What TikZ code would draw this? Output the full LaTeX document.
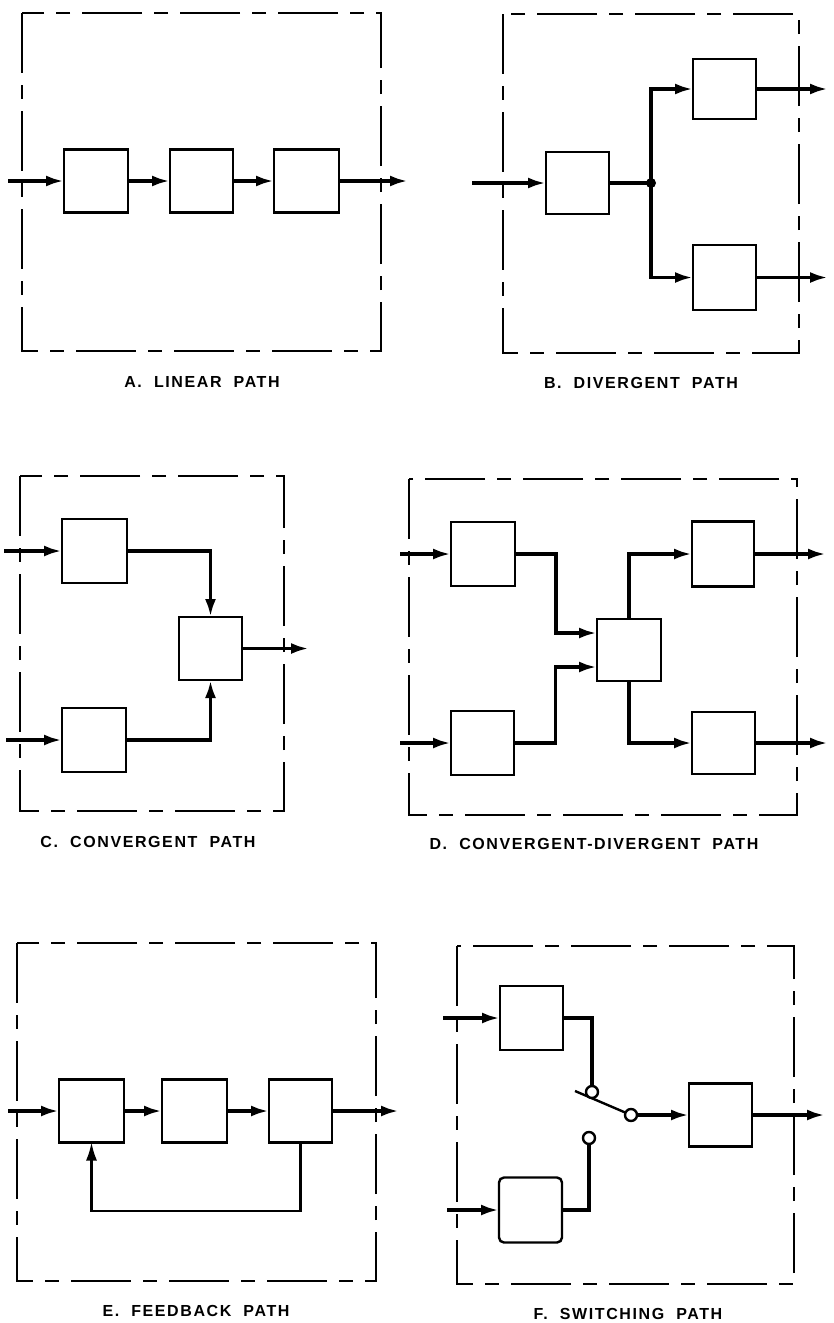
\documentclass[tikz,border=0pt]{standalone}
\usepackage{fontspec}
\setmainfont{Liberation Sans}
\newfontfamily\labfont[LetterSpace=10]{Liberation Sans Bold}
\usetikzlibrary{arrows.meta,calc}
\begin{document}
\begin{tikzpicture}[x=1pt,y=-1pt,
  blk/.style={draw,line width=2.4pt,inner sep=0pt,outer sep=0pt,minimum width=64pt,minimum height=63pt},
  frame/.style={draw,line width=2.2pt,dash pattern=on 60pt off 12pt on 14pt off 12pt},
  conn/.style={line width=3.6pt,-{Latex[length=18pt,width=11pt]}},
  wire/.style={line width=3.6pt},
  fbk/.style={line width=2.2pt,-{Latex[length=18pt,width=11pt]}},
  contact/.style={circle,draw,fill=white,line width=2.4pt,inner sep=0pt,minimum size=12pt},
  lab/.style={font=\labfont\fontsize{16}{18}\selectfont,inner sep=0pt}
]
\useasboundingbox[fill=white] (0,0) rectangle (833,1323);

% ---------- A. Linear path ----------
\draw[frame] (22,13) rectangle (381,351);
\node[blk] (a1) at (96,181) {};
\node[blk,minimum width=63pt] (a2) at (201.5,181) {};
\node[blk,minimum width=65pt] (a3) at (306.5,181) {};
\coordinate (ai) at (8,181);
\coordinate (ao) at (408,181);
\draw[conn] (ai) -- (a1.west);
\draw[conn] (a1.east) -- (a2.west);
\draw[conn] (a2.east) -- (a3.west);
\draw[conn] (a3.east) -- (ao);
\node[lab] (labA) at (202,382) {A.\ \ LINEAR\ \ PATH};

% ---------- B. Divergent path ----------
\draw[frame] (503,14) rectangle (799,353);
\node[blk,minimum width=63pt,minimum height=62pt] (b1) at (577.5,183) {};
\node[blk,minimum width=63pt,minimum height=60pt] (b2) at (724.5,89) {};
\node[blk,minimum width=63pt,minimum height=65pt] (b3) at (724.5,277.5) {};
\coordinate (bi) at (472,183);
\coordinate (bj) at (651,183);
\coordinate (bo2) at (828,89);
\coordinate (bo3) at (828,277.5);
\draw[conn] (bi) -- (b1.west);
\draw[wire] (b1.east) -- (bj);
\draw[conn] (bj) |- (b2.west);
\draw[conn] (bj) |- (b3.west);
\fill (bj) circle (5pt);
\draw[conn] (b2.east) -- (bo2);
\draw[conn] (b3.east) -- (bo3);
\node[lab] (labB) at (641,383) {B.\ \ DIVERGENT\ \ PATH};

% ---------- C. Convergent path ----------
\draw[frame] (20,476) rectangle (284,811);
\node[blk,minimum width=65pt,minimum height=64pt] (c1) at (94.5,551) {};
\node[blk,minimum width=64pt,minimum height=64pt] (c2) at (94,740) {};
\node[blk,minimum width=63pt,minimum height=63pt] (c3) at (210.5,648.5) {};
\coordinate (ci1) at (4,551);
\coordinate (ci2) at (6,740);
\coordinate (co) at (309,648.5);
\draw[conn] (ci1) -- (c1.west);
\draw[conn] (ci2) -- (c2.west);
\draw[conn] (c1.east) -| (c3.north);
\draw[conn] (c2.east) -| (c3.south);
\draw[conn] (c3.east) -- (co);
\node[lab] (labC) at (148,842) {C.\ \ CONVERGENT\ \ PATH};

% ---------- D. Convergent-divergent path ----------
\draw[frame] (409,479) rectangle (797,815);
\node[blk,minimum width=64pt,minimum height=64pt] (d1) at (483,554) {};
\node[blk,minimum width=63pt,minimum height=64pt] (d2) at (482.5,743) {};
\node[blk,minimum width=64pt,minimum height=62pt] (d3) at (629,650) {};
\node[blk,minimum width=62pt,minimum height=65pt] (d4) at (723,554) {};
\node[blk,minimum width=63pt,minimum height=62pt] (d5) at (723.5,743) {};
\coordinate (di1) at (400,554);
\coordinate (di2) at (400,743);
\coordinate (d3in1) at (597,633);
\coordinate (d3in2) at (597,667);
\coordinate (do4) at (826,554);
\coordinate (do5) at (828,743);
\draw[conn] (di1) -- (d1.west);
\draw[conn] (di2) -- (d2.west);
\draw[conn] (d1.east) -| ($(d1.east)!.5!(d3in1)$) |- (d3in1);
\draw[conn] (d2.east) -| ($(d2.east)!.5!(d3in2)$) |- (d3in2);
\draw[conn] (d3.north) |- (d4.west);
\draw[conn] (d3.south) |- (d5.west);
\draw[conn] (d4.east) -- (do4);
\draw[conn] (d5.east) -- (do5);
\node[lab] (labD) at (594,844) {D.\ \ CONVERGENT-DIVERGENT\ \ PATH};

% ---------- E. Feedback path ----------
\draw[frame] (17,943) rectangle (376,1281);
\node[blk,minimum width=65pt] (e1) at (91.5,1111) {};
\node[blk,minimum width=65pt] (e2) at (194.5,1111) {};
\node[blk,minimum width=63pt] (e3) at (300.5,1111) {};
\coordinate (ei) at (8,1111);
\coordinate (eo) at (399,1111);
\coordinate (efb) at (91.5,1211);
\draw[conn] (ei) -- (e1.west);
\draw[conn] (e1.east) -- (e2.west);
\draw[conn] (e2.east) -- (e3.west);
\draw[conn] (e3.east) -- (eo);
\draw[fbk] (e3.south) |- (efb) -- (e1.south);
\node[lab] (labE) at (196,1311) {E.\ \ FEEDBACK\ \ PATH};

% ---------- F. Switching path ----------
\draw[frame] (457,946) rectangle (794,1284);
\node[blk,minimum width=63pt,minimum height=64pt] (f1) at (531.5,1018) {};
\node[blk,minimum width=63pt,minimum height=65pt,rounded corners=5pt] (f2) at (530.5,1210) {};
\node[blk,minimum width=63pt,minimum height=63pt] (f3) at (720.5,1115) {};
\coordinate (fi1) at (443,1018);
\coordinate (fi2) at (447,1210);
\coordinate (fo) at (825,1115);
\coordinate (blade) at (575,1091);
\draw[conn] (fi1) -- (f1.west);
\draw[conn] (fi2) -- (f2.west);
\draw[line width=2.4pt] (blade) -- (631,1115);
\node[contact] (s1) at (592,1092) {};
\node[contact] (s2) at (631,1115) {};
\node[contact] (s3) at (589,1138) {};
\draw[wire] (f1.east) -| (s1.north);
\draw[wire] (s3.south) |- (f2.east);
\draw[conn] (s2.east) -- (f3.west);
\draw[conn] (f3.east) -- (fo);
\node[lab] (labF) at (628,1314) {F.\ \ SWITCHING\ \ PATH};
\end{tikzpicture}
\end{document}
